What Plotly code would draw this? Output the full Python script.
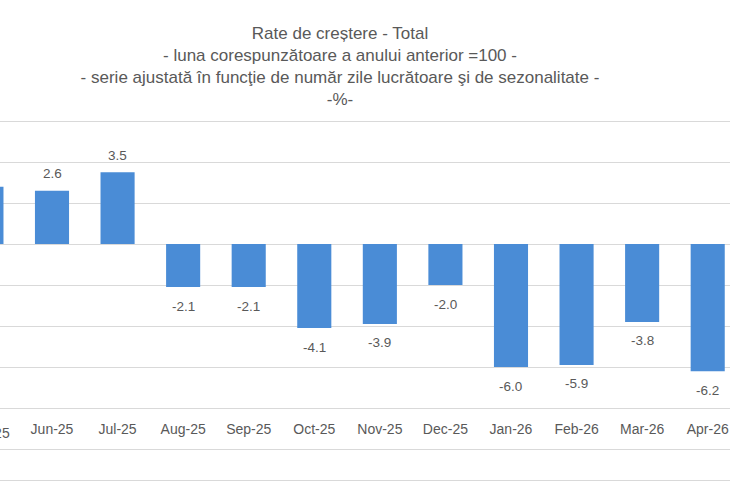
import plotly.graph_objects as go

categories = ["May-25", "Jun-25", "Jul-25", "Aug-25", "Sep-25", "Oct-25", "Nov-25",
              "Dec-25", "Jan-26", "Feb-26", "Mar-26", "Apr-26"]
values = [2.8, 2.6, 3.5, -2.1, -2.1, -4.1, -3.9, -2.0, -6.0, -5.9, -3.8, -6.2]

title_lines = [
    "Rate de creștere - Total",
    "- luna corespunzătoare a anului anterior =100 -",
    "- serie ajustată în funcţie de număr zile lucrătoare şi de sezonalitate -",
    "-%-",
]

TEXT = "#595959"
GRID = "#d9d9d9"
BAR = "#4a8cd6"
FONT = "Liberation Sans"

x_range = [0.207, 11.34]
y_range = [-11.51, 6.05]
xaxis_pos = 0.17

fig = go.Figure()
fig.add_trace(go.Bar(
    x=categories, y=values,
    marker=dict(color=BAR, line=dict(width=0)),
    width=0.52,
    hoverinfo="skip",
))

annotations = []
for c, v in zip(categories, values):
    annotations.append(dict(
        x=c, y=v, xref="x", yref="y", text=f"{v:.1f}", showarrow=False,
        yshift=17 if v >= 0 else -19, yanchor="middle", xanchor="center",
        font=dict(family=FONT, size=13.5, color=TEXT),
    ))

# categories left of the visible range: label partially shown at the edge
for i, c in enumerate(categories):
    if i < x_range[0]:
        annotations.append(dict(
            x=(i - x_range[0]) / (x_range[1] - x_range[0]), xref="paper",
            y=xaxis_pos, yref="paper", text=c, showarrow=False,
            xanchor="center", yanchor="top", yshift=-4,
            font=dict(family=FONT, size=14, color=TEXT),
        ))

fig.update_layout(
    width=730, height=487,
    margin=dict(l=0, r=0, t=120, b=7),
    paper_bgcolor="white", plot_bgcolor="white",
    showlegend=False,
    title=dict(
        text="<br>".join(title_lines),
        x=340 / 730, xanchor="center", y=0.92, yanchor="top",
        font=dict(family=FONT, size=17, color=TEXT),
    ),
    xaxis=dict(
        type="category", range=x_range, anchor="free", position=xaxis_pos,
        showgrid=False, showline=False, ticks="", zeroline=False,
        tickfont=dict(family=FONT, size=14, color=TEXT),
    ),
    yaxis=dict(
        range=y_range, dtick=2, tick0=0, showticklabels=False,
        showgrid=True, gridcolor=GRID, gridwidth=1,
        zeroline=True, zerolinecolor=GRID, zerolinewidth=1,
        showline=False, ticks="",
    ),
    xaxis2=dict(
        overlaying="x", anchor="y", side="bottom", showline=True,
        linecolor=GRID, linewidth=1, showticklabels=False, showgrid=False,
        ticks="", zeroline=False, range=[0, 1],
    ),
    annotations=annotations,
)
fig.add_trace(go.Scatter(x=[None], y=[None], xaxis="x2", yaxis="y",
                         mode="markers", hoverinfo="skip"))

fig.write_html("out.html")
